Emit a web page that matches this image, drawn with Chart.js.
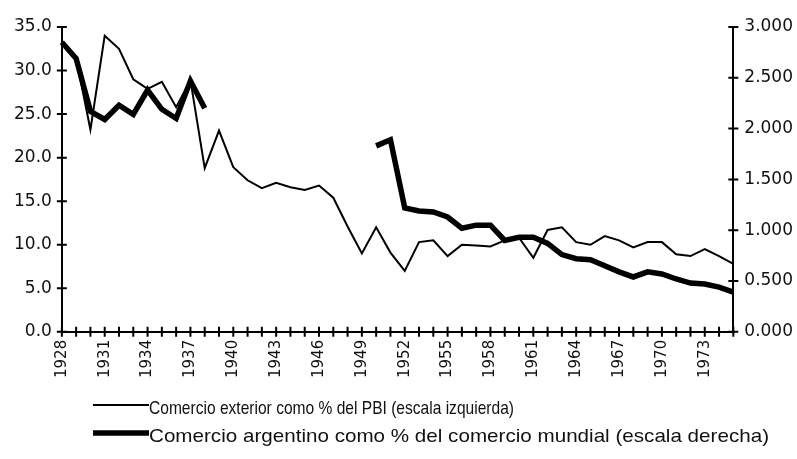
<!doctype html>
<html>

<head>
	<title>Comercio exterior argentino 1928-1975</title>
	<script src="https://cdn.jsdelivr.net/npm/chart.js@4/dist/chart.umd.min.js"></script>
	<style>
		body {
			margin: 0;
			background: #fff;
		}
		#holder {
			width: 797px;
			height: 459px;
		}
	</style>
</head>

<body>
	<div id="holder">
		<canvas id="chart" width="797" height="459"></canvas>
	</div>
	<script>
		var years = [
			1928, 1929, 1930, 1931, 1932, 1933, 1934, 1935, 1936, 1937, 1938, 1939,
			1940, 1941, 1942, 1943, 1944, 1945, 1946, 1947, 1948, 1949, 1950, 1951,
			1952, 1953, 1954, 1955, 1956, 1957, 1958, 1959, 1960, 1961, 1962, 1963,
			1964, 1965, 1966, 1967, 1968, 1969, 1970, 1971, 1972, 1973, 1974, 1975
		];
		var yearLabels = [1928, 1931, 1934, 1937, 1940, 1943, 1946, 1949, 1952, 1955, 1958, 1961, 1964, 1967, 1970, 1973];

		// comercio exterior como % del PBI (escala izquierda)
		var tradeGdp = [
			33.1, 31.4, 23.2, 34.0, 32.5, 29.0, 27.9, 28.7, 25.8, 28.9, 18.8, 23.1,
			18.9, 17.4, 16.5, 17.1, 16.6, 16.3, 16.8, 15.4, 12.1, 9.0, 12.0, 9.1,
			7.0, 10.3, 10.5, 8.7, 10.0, 9.9, 9.8, 10.5, 10.8, 8.5, 11.7, 12.0,
			10.3, 10.0, 11.0, 10.5, 9.7, 10.3, 10.3, 8.9, 8.7, 9.5, 8.7, 7.8
		];

		// comercio argentino como % del comercio mundial (escala derecha), sin datos 1939-1949
		var worldShare = [
			2.85, 2.69, 2.17, 2.09, 2.23, 2.14, 2.38, 2.19, 2.10, 2.47, 2.20, null,
			null, null, null, null, null, null, null, null, null, null, 1.83, 1.89,
			1.22, 1.19, 1.18, 1.13, 1.02, 1.05, 1.05, 0.90, 0.93, 0.93, 0.87, 0.76,
			0.72, 0.71, 0.65, 0.59, 0.54, 0.59, 0.57, 0.52, 0.48, 0.47, 0.44, 0.39
		];

		var leftTicks = { min: 0, max: 35, step: 5 };
		var rightTicks = { min: 0, max: 3, step: 0.5 };

		var tickFont = 'DejaVu Sans';
		var legendFont = '"Liberation Sans", Arial, sans-serif';

		// legend rows: sample line y, text middle y, text width to fit
		var legendRows = [
			{ line: 405, text: 409, width: 365 },
			{ line: 433, text: 437, width: 620 }
		];

		// small crossing tick marks on the three axes, plus the legend below the axis labels
		var axisMarks = {
			id: 'axisMarks',
			afterDraw: function(chart) {
				var ctx = chart.ctx;
				var area = chart.chartArea;
				var sx = chart.scales.x;
				var sy = chart.scales.y;
				var sy1 = chart.scales.y1;
				var half = 5;

				ctx.save();
				ctx.strokeStyle = '#000';
				ctx.lineWidth = 2;
				ctx.beginPath();
				sx.ticks.forEach(function(t, i) {
					var px = sx.getPixelForTick(i);
					ctx.moveTo(px, area.bottom - half);
					ctx.lineTo(px, area.bottom + half);
				});
				sy.ticks.forEach(function(t, i) {
					var py = sy.getPixelForTick(i);
					ctx.moveTo(area.left - half, py);
					ctx.lineTo(area.left + half, py);
				});
				sy1.ticks.forEach(function(t, i) {
					var py = sy1.getPixelForTick(i);
					ctx.moveTo(area.right - half, py);
					ctx.lineTo(area.right + half, py);
				});
				ctx.stroke();

				// legend
				ctx.font = '19px ' + legendFont;
				ctx.textBaseline = 'middle';
				ctx.fillStyle = '#111';
				chart.data.datasets.forEach(function(ds, i) {
					var row = legendRows[i];
					ctx.beginPath();
					ctx.lineWidth = ds.borderWidth;
					ctx.strokeStyle = ds.borderColor;
					ctx.moveTo(93, row.line);
					ctx.lineTo(149, row.line);
					ctx.stroke();
					var w = ctx.measureText(ds.label).width;
					ctx.save();
					ctx.translate(149, row.text);
					ctx.scale(row.width / w, 1);
					ctx.fillText(ds.label, 0, 0);
					ctx.restore();
				});
				ctx.restore();
			}
		};

		window.onload = function() {
			var ctx = document.getElementById('chart');
			window.myLine = new Chart(ctx, {
				type: 'line',
				data: {
					labels: years,
					datasets: [{
						label: 'Comercio exterior como % del PBI (escala izquierda)',
						data: tradeGdp,
						yAxisID: 'y',
						borderColor: '#000',
						borderWidth: 2,
						pointRadius: 0,
						tension: 0,
						fill: false
					}, {
						label: 'Comercio argentino como % del comercio mundial (escala derecha)',
						data: worldShare,
						yAxisID: 'y1',
						borderColor: '#000',
						borderWidth: 5.5,
						pointRadius: 0,
						tension: 0,
						spanGaps: false,
						fill: false
					}]
				},
				options: {
					responsive: false,
					animation: false,
					layout: {
						padding: { left: 4, right: -7, top: 27, bottom: 73 }
					},
					plugins: {
						legend: { display: false },
						tooltip: { enabled: false }
					},
					scales: {
						x: {
							type: 'category',
							offset: false,
							grid: { display: true, drawOnChartArea: false, drawTicks: false },
							border: { display: true, color: '#000', width: 2 },
							ticks: {
								autoSkip: false,
								minRotation: 90,
								maxRotation: 90,
								padding: 8,
								color: '#111',
								font: { family: tickFont, size: 15 },
								callback: function(val, i) {
									var yr = years[i];
									return yearLabels.indexOf(yr) >= 0 ? String(yr) : '';
								}
							}
						},
						y: {
							position: 'left',
							min: leftTicks.min,
							max: leftTicks.max,
							grid: { display: true, drawOnChartArea: false, drawTicks: false },
							border: { display: true, color: '#000', width: 2 },
							ticks: {
								stepSize: leftTicks.step,
								padding: 10,
								color: '#111',
								font: { family: tickFont, size: 17 },
								callback: function(v) { return v.toFixed(1); }
							}
						},
						y1: {
							position: 'right',
							min: rightTicks.min,
							max: rightTicks.max,
							grid: { display: true, drawOnChartArea: false, drawTicks: false },
							border: { display: true, color: '#000', width: 2 },
							ticks: {
								stepSize: rightTicks.step,
								padding: 11,
								color: '#111',
								font: { family: tickFont, size: 17 },
								callback: function(v) { return v.toFixed(3); }
							}
						}
					}
				},
				plugins: [axisMarks]
			});
		};
	</script>
</body>

</html>
